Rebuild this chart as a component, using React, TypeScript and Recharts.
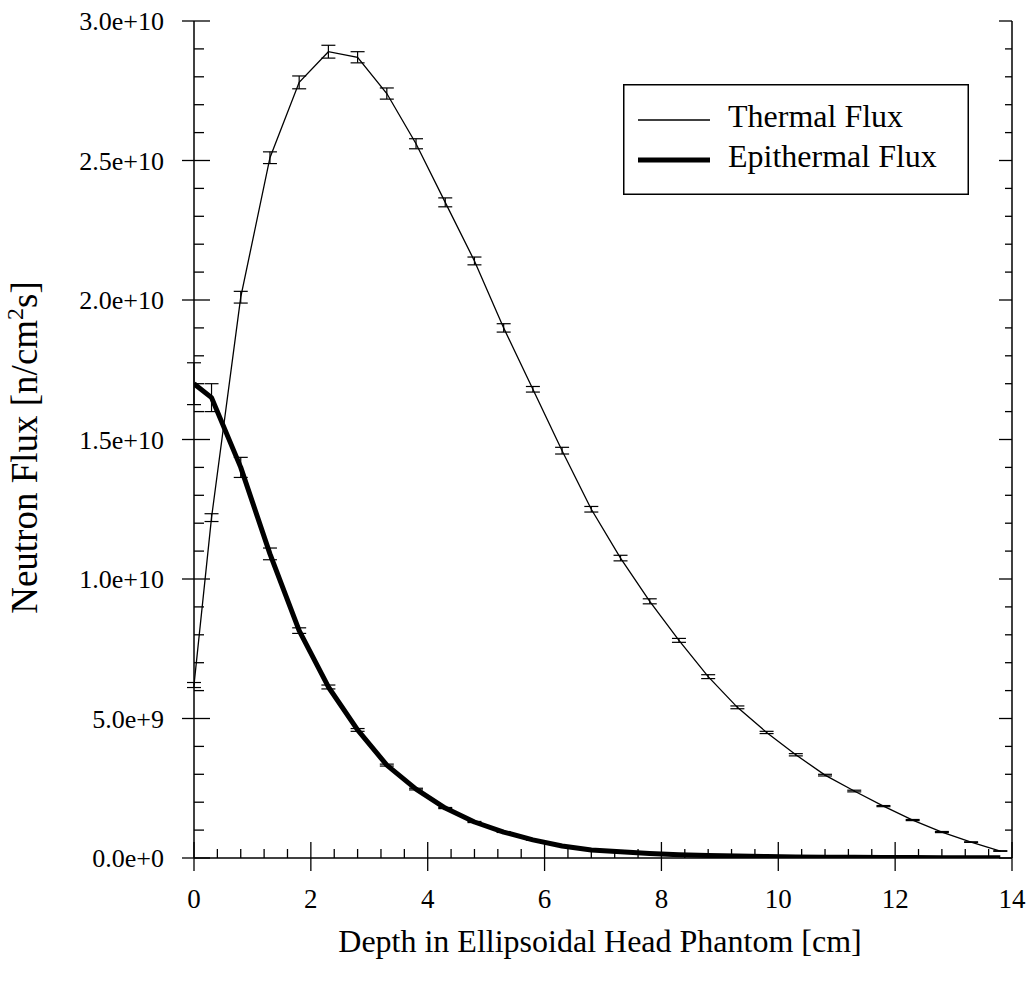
import React from "react";
import { ErrorBar, Label, Legend, Line, LineChart, XAxis, YAxis } from "recharts";

const FONT = '"Liberation Serif", "Times New Roman", serif';

// depth in cm, flux in n/cm^2 s
const depth = [
  0, 0.3, 0.8, 1.3, 1.8, 2.3, 2.8, 3.3, 3.8, 4.3, 4.8, 5.3, 5.8, 6.3, 6.8,
  7.3, 7.8, 8.3, 8.8, 9.3, 9.8, 10.3, 10.8, 11.3, 11.8, 12.3, 12.8, 13.3, 13.8,
];
const thermalFlux = [
  6.2e9, 12.2e9, 20.1e9, 25.1e9, 27.8e9, 28.9e9, 28.7e9, 27.4e9, 25.6e9,
  23.5e9, 21.4e9, 19.0e9, 16.8e9, 14.6e9, 12.5e9, 10.75e9, 9.2e9, 7.8e9,
  6.5e9, 5.4e9, 4.5e9, 3.7e9, 2.97e9, 2.4e9, 1.86e9, 1.36e9, 0.93e9, 0.57e9,
  0.25e9,
];
const thermalErr = [
  0.09e9, 0.14e9, 0.21e9, 0.21e9, 0.23e9, 0.23e9, 0.2e9, 0.2e9, 0.18e9,
  0.16e9, 0.14e9, 0.15e9, 0.1e9, 0.12e9, 0.1e9, 0.1e9, 0.09e9, 0.07e9,
  0.07e9, 0.05e9, 0.04e9, 0.04e9, 0.03e9, 0.03e9, 0.02e9, 0.02e9, 0.02e9,
  0.01e9, 0.01e9,
];
const epithermalFlux = [
  17.0e9, 16.5e9, 14.0e9, 10.9e9, 8.15e9, 6.13e9, 4.59e9, 3.33e9, 2.47e9,
  1.79e9, 1.29e9, 0.93e9, 0.65e9, 0.43e9, 0.29e9, 0.22e9, 0.16e9, 0.12e9,
  0.09e9, 0.07e9, 0.05e9, 0.04e9, 0.03e9, 0.025e9, 0.02e9, 0.015e9, 0.012e9,
  0.01e9, 0.008e9,
];
const epithermalErr = [
  0.75e9, 0.5e9, 0.36e9, 0.21e9, 0.1e9, 0.07e9, 0.05e9, 0.035e9, 0.03e9,
  0.02e9, 0.02e9, 0.015e9, 0.01e9, 0.01e9, 0.005e9, 0, 0, 0, 0, 0, 0, 0, 0,
  0, 0, 0, 0, 0, 0,
];

const xMajorTicks = [0, 2, 4, 6, 8, 10, 12, 14];
const xTicks = Array.from({ length: 36 }, (_, i) => Math.round(i * 4) / 10);
const yMajorTicks = [0, 5e9, 1e10, 1.5e10, 2e10, 2.5e10, 3e10];
const yMajorLabels = ["0.0e+0", "5.0e+9", "1.0e+10", "1.5e+10", "2.0e+10", "2.5e+10", "3.0e+10"];
const yTicks = Array.from({ length: 31 }, (_, i) => i * 1e9);

const seriesOrder = ["thermal", "epithermal"];
const legendStroke: Record<string, number> = { thermal: 1.3, epithermal: 5 };

const data = depth.map((x, i) => ({
  x,
  thermal: thermalFlux[i],
  thermalErr: thermalErr[i],
  epithermal: epithermalFlux[i],
  epithermalErr: epithermalErr[i],
}));

const textStyle = { fontFamily: FONT };

function BottomTick({ x, y, payload }: any) {
  const major = xMajorTicks.includes(payload.value);
  return (
    <g>
      <line x1={x} x2={x} y1={y - (major ? 16 : 9)} y2={y + (major ? 13 : 0)} stroke="#000" strokeWidth={1.3} />
      {major && (
        <text x={x} y={y + 50} textAnchor="middle" fontSize={27} style={textStyle} fill="#000">
          {payload.value}
        </text>
      )}
    </g>
  );
}

function TopTick({ x, y, payload }: any) {
  const major = xMajorTicks.includes(payload.value);
  return <line x1={x} x2={x} y1={y} y2={y + (major ? 14 : 7)} stroke="#000" strokeWidth={1.3} />;
}

function LeftTick({ x, y, payload }: any) {
  const idx = yMajorTicks.indexOf(payload.value);
  const major = idx >= 0;
  return (
    <g>
      <line x1={x - (major ? 12 : 0)} x2={x + (major ? 16 : 10)} y1={y} y2={y} stroke="#000" strokeWidth={1.3} />
      {major && (
        <text x={x - 30} y={y + 9} textAnchor="end" fontSize={26} style={textStyle} fill="#000">
          {yMajorLabels[idx]}
        </text>
      )}
    </g>
  );
}

function RightTick({ x, y, payload }: any) {
  const major = yMajorTicks.includes(payload.value);
  return <line x1={x - (major ? 13 : 7)} x2={x} y1={y} y2={y} stroke="#000" strokeWidth={1.3} />;
}

function XTitle({ viewBox }: any) {
  const cx = (viewBox?.x ?? 0) + (viewBox?.width ?? 0) / 2 - 3;
  const by = (viewBox?.y ?? 0) + 94;
  return (
    <text x={cx} y={by} textAnchor="middle" fontSize={32} style={textStyle} fill="#000">
      Depth in Ellipsoidal Head Phantom [cm]
    </text>
  );
}

function YTitle({ viewBox }: any) {
  const cx = (viewBox?.x ?? 0) + 37;
  const cy = (viewBox?.y ?? 0) + (viewBox?.height ?? 0) / 2 + 8;
  return (
    <text
      x={cx}
      y={cy}
      transform={`rotate(-90, ${cx}, ${cy})`}
      textAnchor="middle"
      fontSize={37}
      style={textStyle}
      fill="#000"
    >
      Neutron Flux [n/cm
      <tspan dy={-14} fontSize={24}>2</tspan>
      <tspan dy={14}>s]</tspan>
    </text>
  );
}

function LegendBox({ payload }: any) {
  const items = [...(payload ?? [])].sort(
    (a: any, b: any) => seriesOrder.indexOf(a.dataKey) - seriesOrder.indexOf(b.dataKey)
  );
  return (
    <svg width={346} height={111} style={{ display: "block" }}>
      <rect x={0.75} y={0.75} width={344.5} height={109.5} fill="#fff" stroke="#000" strokeWidth={1.5} />
      {items.map((e: any, i: number) => (
        <g key={e.value}>
          <line x1={15} x2={87} y1={36 + i * 40} y2={36 + i * 40} stroke="#000" strokeWidth={legendStroke[e.dataKey] ?? 1} />
          <text x={105} y={43 + i * 40} fontSize={32} style={textStyle} fill="#000">
            {e.value}
          </text>
        </g>
      ))}
    </svg>
  );
}

const axisLine = { stroke: "#000", strokeWidth: 1.5 };

export default function App() {
  return (
    <div style={{ position: "absolute", left: 0, top: 0, background: "#fff" }}>
      <LineChart
        width={1032}
        height={981}
        data={data}
        margin={{ top: 21, right: 0, bottom: 0, left: 0 }}
        style={{ fontFamily: FONT }}
      >
        <XAxis
          dataKey="x"
          type="number"
          domain={[0, 14]}
          allowDataOverflow
          ticks={xTicks}
          interval={0}
          tickSize={0}
          tickMargin={0}
          tickLine={false}
          tick={BottomTick}
          axisLine={axisLine}
          height={123}
        >
          <Label content={XTitle} />
        </XAxis>
        <XAxis
          xAxisId="top"
          orientation="top"
          type="number"
          domain={[0, 14]}
          allowDataOverflow
          ticks={xTicks}
          interval={0}
          tickSize={0}
          tickMargin={0}
          tickLine={false}
          tick={TopTick}
          axisLine={axisLine}
          height={0}
        />
        <YAxis
          type="number"
          domain={[0, 3e10]}
          allowDataOverflow
          ticks={yTicks}
          interval={0}
          tickSize={0}
          tickMargin={0}
          tickLine={false}
          tick={LeftTick}
          axisLine={axisLine}
          width={194}
        >
          <Label content={YTitle} />
        </YAxis>
        <YAxis
          yAxisId="right"
          orientation="right"
          type="number"
          domain={[0, 3e10]}
          allowDataOverflow
          ticks={yTicks}
          interval={0}
          tickSize={0}
          tickMargin={0}
          tickLine={false}
          tick={RightTick}
          axisLine={axisLine}
          width={20}
        />
        <Legend
          layout="vertical"
          align="center"
          verticalAlign="middle"
          content={LegendBox}
          wrapperStyle={{ left: 623, top: 84, width: 346, height: 111 }}
        />
        <Line
          type="linear"
          dataKey="thermal"
          name="Thermal Flux"
          stroke="#000"
          strokeWidth={1.3}
          dot={false}
          isAnimationActive={false}
        >
          <ErrorBar dataKey="thermalErr" direction="y" width={7} stroke="#000" strokeWidth={1.2} isAnimationActive={false} />
        </Line>
        <Line
          type="linear"
          dataKey="epithermal"
          name="Epithermal Flux"
          stroke="#000"
          strokeWidth={5}
          strokeLinejoin="round"
          dot={false}
          isAnimationActive={false}
        >
          <ErrorBar dataKey="epithermalErr" direction="y" width={7} stroke="#000" strokeWidth={1.2} isAnimationActive={false} />
        </Line>
      </LineChart>
    </div>
  );
}
